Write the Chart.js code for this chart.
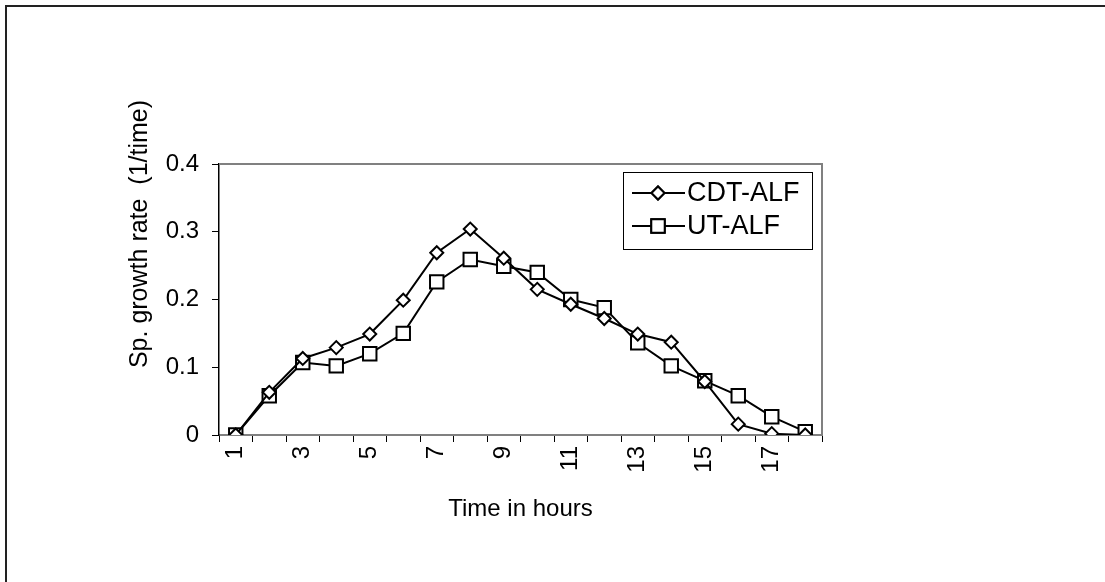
<!DOCTYPE html>
<html>
<head>
<meta charset="utf-8">
<script src="https://cdn.jsdelivr.net/npm/chart.js@4/dist/chart.umd.min.js"></script>
<style>
  html, body { margin: 0; padding: 0; background: #fff; }
  #wrap { position: relative; width: 1105px; height: 582px; }
</style>
</head>
<body>
<div id="wrap"><canvas id="myChart" width="1105" height="582"></canvas></div>
<script>
// hours 1..18
const hours = ["1","2","3","4","5","6","7","8","9","10","11","12","13","14","15","16","17","18"];
const cdtALF = [0, 0.063, 0.113, 0.129, 0.149, 0.199, 0.269, 0.304, 0.261, 0.215, 0.193, 0.172, 0.149, 0.137, 0.079, 0.016, 0.002, 0];
const utALF  = [0, 0.058, 0.107, 0.102, 0.120, 0.150, 0.226, 0.259, 0.249, 0.240, 0.200, 0.188, 0.136, 0.102, 0.080, 0.058, 0.027, 0.005];
const yTicks = [0, 0.1, 0.2, 0.3, 0.4];
const yTitle = 'Sp. growth rate  (1/time)';

const FONT = "'Liberation Sans', Arial, sans-serif";

// outer frame + gray plot border + y title (sits higher than the axis middle)
const framePlugin = {
  id: 'frame',
  beforeDraw(chart) {
    const ctx = chart.ctx;
    ctx.save();
    ctx.fillStyle = '#fff';
    ctx.fillRect(0, 0, chart.width, chart.height);
    ctx.strokeStyle = '#222';
    ctx.lineWidth = 2;
    ctx.beginPath();
    ctx.moveTo(6, chart.height);
    ctx.lineTo(6, 6);
    ctx.lineTo(chart.width, 6);
    ctx.stroke();
    ctx.restore();
  },
  afterDraw(chart) {
    const a = chart.chartArea;
    const ctx = chart.ctx;
    ctx.save();
    ctx.strokeStyle = '#808080';
    ctx.lineWidth = 2;
    ctx.beginPath();
    ctx.moveTo(a.left, a.top);
    ctx.lineTo(a.right, a.top);
    ctx.lineTo(a.right, a.bottom);
    ctx.stroke();

    ctx.translate(140, 234);
    ctx.rotate(-Math.PI / 2);
    ctx.fillStyle = '#000';
    ctx.font = '25px ' + FONT;
    ctx.textAlign = 'center';
    ctx.textBaseline = 'middle';
    ctx.fillText(yTitle, 0, 0);
    ctx.restore();
  }
};

// Excel-like legend box with line + marker
const boxLegend = {
  id: 'boxLegend',
  afterDatasetsDraw(chart) {
    const ctx = chart.ctx;
    const a = chart.chartArea;
    const x0 = a.right - 199, y0 = a.top + 8, w = 189, h = 77;
    ctx.save();
    ctx.fillStyle = '#fff';
    ctx.fillRect(x0, y0, w, h);
    ctx.strokeStyle = '#000';
    ctx.lineWidth = 1;
    ctx.strokeRect(x0 + 0.5, y0 + 0.5, w, h);
    chart.data.datasets.forEach((ds, i) => {
      const cy = y0 + 21 + i * 33;
      ctx.strokeStyle = '#000';
      ctx.lineWidth = 2;
      ctx.beginPath();
      ctx.moveTo(x0 + 9, cy);
      ctx.lineTo(x0 + 62, cy);
      ctx.stroke();
      ctx.fillStyle = '#fff';
      Chart.helpers.drawPoint(ctx, {
        pointStyle: ds.pointStyle,
        radius: ds.pointRadius,
        borderWidth: ds.pointBorderWidth
      }, x0 + 35, cy);
      ctx.fill();
      ctx.stroke();
      ctx.fillStyle = '#000';
      ctx.font = '27px ' + FONT;
      ctx.textBaseline = 'middle';
      ctx.fillText(ds.label, x0 + 64, cy + 1);
    });
    ctx.restore();
  }
};

new Chart(document.getElementById('myChart').getContext('2d'), {
  type: 'line',
  data: {
    labels: hours,
    datasets: [{
      label: 'CDT-ALF',
      data: cdtALF,
      borderColor: '#000',
      borderWidth: 2,
      pointStyle: 'rectRot',
      pointRadius: 6.5,
      pointBorderWidth: 2,
      pointBackgroundColor: '#fff',
      pointBorderColor: '#000',
      tension: 0
    }, {
      label: 'UT-ALF',
      data: utALF,
      borderColor: '#000',
      borderWidth: 2,
      pointStyle: 'rect',
      pointRadius: 9.5,
      pointBorderWidth: 2,
      pointBackgroundColor: '#fff',
      pointBorderColor: '#000',
      tension: 0
    }]
  },
  options: {
    responsive: false,
    animation: false,
    layout: { padding: { left: 124, top: 164, right: 283, bottom: 58 } },
    plugins: {
      legend: { display: false },
      tooltip: { enabled: false }
    },
    scales: {
      x: {
        offset: true,
        grid: { offset: true, drawOnChartArea: false, drawTicks: true, tickLength: 7, color: '#000', lineWidth: 1 },
        border: { color: '#808080', width: 2 },
        ticks: {
          autoSkip: false,
          minRotation: 90,
          maxRotation: 90,
          padding: 4,
          color: '#000',
          font: { family: FONT, size: 24 },
          callback: (v, i) => (i % 2 === 0 ? hours[i] : '')
        },
        title: { display: true, text: 'Time in hours', color: '#000', font: { family: FONT, size: 24 }, padding: 0 },
        afterFit(scale) { scale.height = 89; }
      },
      y: {
        min: 0,
        max: 0.4,
        afterBuildTicks(scale) { scale.ticks = yTicks.map(v => ({ value: v })); },
        grid: { drawOnChartArea: false, tickLength: 7, color: '#000' },
        border: { color: '#000', width: 1.5 },
        ticks: {
          padding: 13,
          color: '#000',
          font: { family: FONT, size: 24 },
          callback: v => String(v)
        },
        afterFit(scale) { scale.width = 95; }
      }
    }
  },
  plugins: [framePlugin, boxLegend]
});
</script>
</body>
</html>
